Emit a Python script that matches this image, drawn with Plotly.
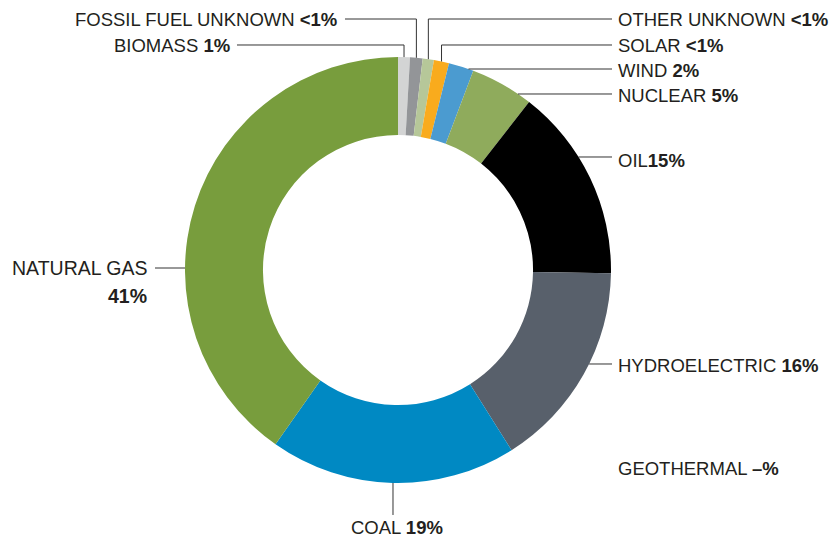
import math
import plotly.graph_objects as go

# ---- data ----
categories = ["BIOMASS", "FOSSIL FUEL UNKNOWN", "OTHER UNKNOWN", "SOLAR", "WIND",
              "NUCLEAR", "OIL", "HYDROELECTRIC", "GEOTHERMAL", "COAL", "NATURAL GAS"]
values = [0.9, 0.95, 0.85, 1.15, 1.9, 4.8, 14.7, 15.8, 0.0, 18.7, 40.25]
pct_labels = ["1%", "<1%", "<1%", "<1%", "2%", "5%", "15%", "16%", "–%", "19%", "41%"]
colors = ["#d3d4d4", "#939598", "#b6c799", "#f9ab1d", "#4b9bd0", "#8fab5c",
          "#000000", "#58606b", "#cccccc", "#0089c3", "#789d3d"]

W, H = 830, 540
CX, CY, R = 398, 270, 213   # page pixels
HOLE = 0.634


def px(x):
    return x / W


def py(y):
    return 1 - y / H


fig = go.Figure(go.Pie(
    labels=categories, values=values, sort=False, direction="clockwise", rotation=0,
    hole=HOLE, textinfo="none", hoverinfo="label+percent",
    marker=dict(colors=colors, line=dict(width=0)),
    domain=dict(x=[px(CX - R), px(CX + R)], y=[py(CY + R), py(CY - R)]),
    showlegend=False,
))

total = sum(values)
cum = []
c = 0
for v in values:
    cum.append((c, c + v))
    c += v


def mid_x(k):
    a = 2 * math.pi * (cum[k][0] + cum[k][1]) / 2 / total
    return CX + R * math.sin(a)


def circ_y_at_x(x):
    return CY - math.sqrt(R * R - (x - CX) ** 2)


def circ_x_at_y(y, side=1):
    return CX + side * math.sqrt(max(R * R - (y - CY) ** 2, 0))


shapes = []
LINE = dict(color="#333333", width=1)


def path(points):
    d = "M " + " L ".join(f"{px(x):.5f},{py(y):.5f}" for x, y in points)
    shapes.append(dict(type="path", path=d, xref="paper", yref="paper", line=LINE))


i = {k: n for n, k in enumerate(categories)}

xb = mid_x(i["BIOMASS"])
path([(237, 45), (xb, 45), (xb, circ_y_at_x(xb))])
xf = mid_x(i["FOSSIL FUEL UNKNOWN"])
path([(345, 19), (xf, 19), (xf, circ_y_at_x(xf))])
xo = mid_x(i["OTHER UNKNOWN"])
path([(612, 19), (xo, 19), (xo, circ_y_at_x(xo))])
xs = mid_x(i["SOLAR"])
path([(612, 45), (xs, 45), (xs, circ_y_at_x(xs))])
for name, y in [("WIND", 69), ("NUCLEAR", 94), ("OIL", 157), ("HYDROELECTRIC", 364)]:
    path([(612, y), (circ_x_at_y(y, 1), y)])
path([(155, 268), (circ_x_at_y(268, -1), 268)])
path([(393, CY + math.sqrt(R * R - (393 - CX) ** 2)), (393, 515)])

FONT = dict(family="Liberation Sans, Arial, sans-serif", size=18.5, color="#231f20")
ann = []


def label(text, x, y, xanchor, size=None):
    f = dict(FONT)
    if size:
        f["size"] = size
    ann.append(dict(text=text, x=px(x), y=py(y), xref="paper", yref="paper",
                    xanchor=xanchor, yanchor="middle", showarrow=False, font=f))


def t(n, sep=" "):
    return f"{categories[i[n]]}{sep}<b>{pct_labels[i[n]]}</b>"


label(t("FOSSIL FUEL UNKNOWN"), 339, 19, "right")
label(t("BIOMASS"), 232, 45, "right")
label(t("OTHER UNKNOWN"), 616, 19, "left")
label(t("SOLAR"), 616, 45, "left")
label(t("WIND"), 616, 70, "left")
label(t("NUCLEAR"), 616, 95, "left")
label(t("OIL", ""), 616, 160, "left")
label(t("HYDROELECTRIC"), 616, 365, "left")
label(t("GEOTHERMAL"), 616, 468, "left")
label(t("COAL"), 397, 527, "center")
label(categories[i["NATURAL GAS"]], 149, 268, "right", 19.5)
label(f"<b>{pct_labels[i['NATURAL GAS']]}</b>", 149, 296, "right", 19.5)

fig.update_layout(width=W, height=H, margin=dict(l=0, r=0, t=0, b=0),
                  paper_bgcolor="white", plot_bgcolor="white",
                  shapes=shapes, annotations=ann)
fig.write_html("out.html", config={"displayModeBar": False},
               post_script="document.body.style.margin='0';document.body.style.overflow='hidden';")
